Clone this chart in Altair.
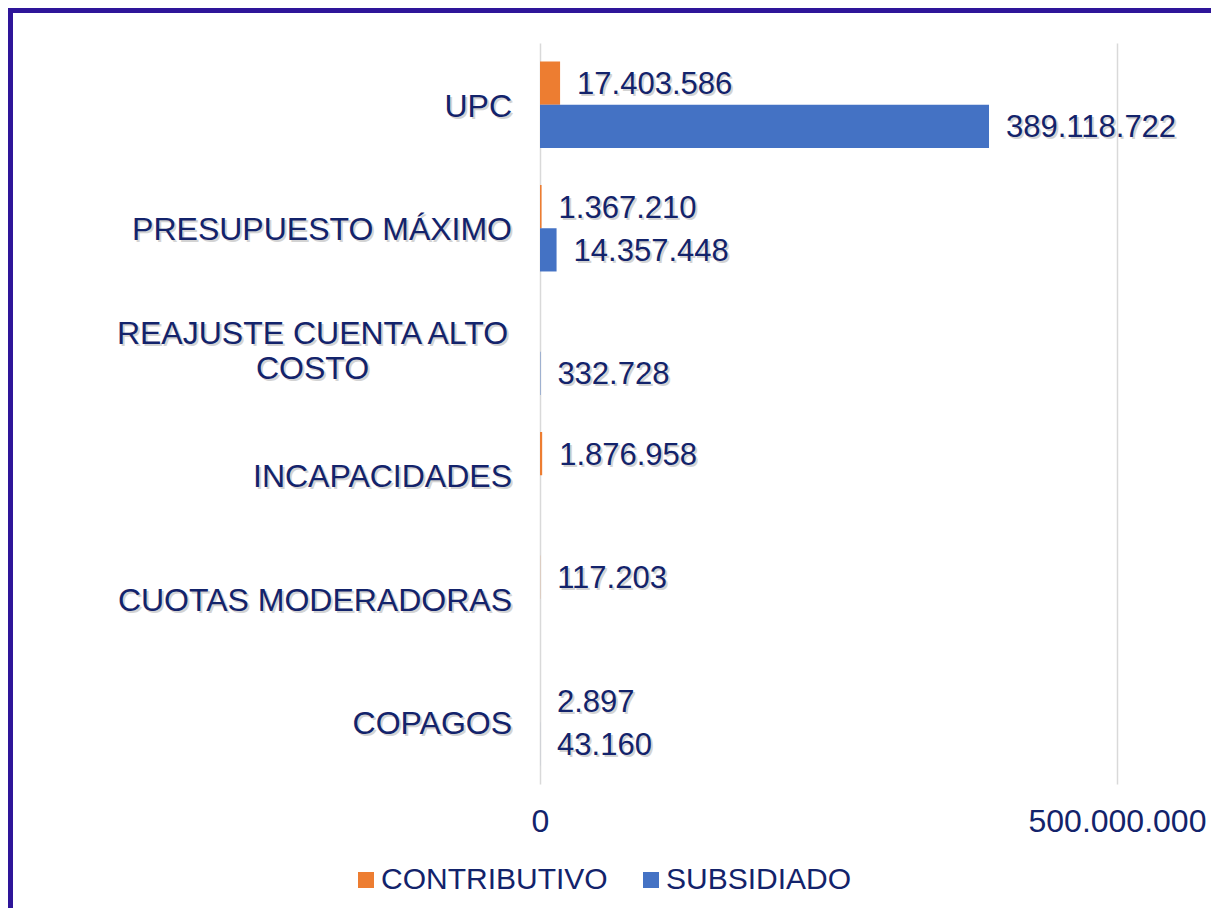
import altair as alt
import pandas as pd

categories = ["UPC", "PRESUPUESTO MÁXIMO", "REAJUSTE CUENTA ALTO COSTO",
              "INCAPACIDADES", "CUOTAS MODERADORAS", "COPAGOS"]
contributivo = [17403586, 1367210, None, 1876958, 117203, 2897]
subsidiado = [389118722, 14357448, 332728, None, None, 43160]
series = ["CONTRIBUTIVO", "SUBSIDIADO"]
colors = ["#ED7D31", "#4472C4"]
x_ticks = [0, 500000000]

# category labels: single line ones and the wrapped one
single_line = ["UPC", "PRESUPUESTO MÁXIMO", "INCAPACIDADES", "CUOTAS MODERADORAS", "COPAGOS"]
wrapped = {"REAJUSTE CUENTA ALTO COSTO": "REAJUSTE CUENTA ALTO\nCOSTO"}

rows = []
for c, a, b in zip(categories, contributivo, subsidiado):
    for s, v in ((series[0], a), (series[1], b)):
        if v is not None:
            rows.append({"cat": c, "serie": s, "valor": v,
                         "label": f"{v:,}".replace(",", ".")})
df = pd.DataFrame(rows)
df_single = pd.DataFrame({"cat": single_line, "disp": single_line})
df_wrap = pd.DataFrame({"cat": list(wrapped.keys()), "disp": list(wrapped.values())})

FONT = "Liberation Sans"
NAVY = "#13236B"
SHADOW = "#A0A0A0"
FS = 32      # category + axis labels
FS_VAL = 31  # bar value labels
FS_LEG = 30  # legend labels

y_enc = alt.Y("cat:N", sort=categories, axis=None,
              scale=alt.Scale(paddingInner=0.3, paddingOuter=0.15))
x_enc = alt.X("valor:Q", title=None,
              scale=alt.Scale(domain=[0, 581500000], nice=False, zero=True),
              axis=alt.Axis(values=x_ticks, grid=True, gridColor="#D9D9D9", gridWidth=1.5,
                            domain=False, ticks=False, labelFontSize=FS, labelFont=FONT,
                            labelColor=NAVY, labelPadding=22, labelFlush=False,
                            labelExpr="replace(replace(replace(format(datum.value, ','), ',', '.'), ',', '.'), ',', '.')"))
yo_enc = alt.YOffset("serie:N", sort=series)
y_plain = alt.Y("cat:N", sort=categories, axis=None)

base = alt.Chart(df)

bars = base.mark_bar().encode(
    x=x_enc, y=y_enc, yOffset=yo_enc,
    color=alt.Color("serie:N", scale=alt.Scale(domain=series, range=colors),
                    legend=alt.Legend(orient="none", legendX=-189, legendY=822,
                                      direction="horizontal", title=None,
                                      symbolType="square", symbolSize=256,
                                      symbolStrokeWidth=0, labelFontSize=FS_LEG,
                                      labelFont=FONT, labelColor=NAVY,
                                      columnPadding=28, labelOffset=0, padding=0,
                                      labelLimit=400)),
)

label_shadow = base.mark_text(align="left", baseline="middle", dx=19, dy=4,
                              font=FONT, fontSize=FS_VAL, color=SHADOW, opacity=0.45).encode(
    x="valor:Q", y=y_plain, yOffset=yo_enc, text="label:N")
labels = base.mark_text(align="left", baseline="middle", dx=17, dy=2,
                        font=FONT, fontSize=FS_VAL, color=NAVY).encode(
    x="valor:Q", y=y_plain, yOffset=yo_enc, text="label:N")

s_base = alt.Chart(df_single)
cat_shadow = s_base.mark_text(align="right", baseline="middle", dx=2, dy=4,
                              font=FONT, fontSize=FS, color=SHADOW, opacity=0.45).encode(
    y=y_plain, x=alt.value(-28), text="disp:N")
cat_labels = s_base.mark_text(align="right", baseline="middle", dy=2,
                              font=FONT, fontSize=FS, color=NAVY).encode(
    y=y_plain, x=alt.value(-28), text="disp:N")

w_base = alt.Chart(df_wrap)
wrap_shadow = w_base.mark_text(align="center", baseline="middle", dx=2, dy=-15.5,
                               lineBreak="\n", lineHeight=35,
                               font=FONT, fontSize=FS, color=SHADOW, opacity=0.45).encode(
    y=y_plain, x=alt.value(-227.5), text="disp:N")
wrap_labels = w_base.mark_text(align="center", baseline="middle", dy=-17.5,
                               lineBreak="\n", lineHeight=35,
                               font=FONT, fontSize=FS, color=NAVY).encode(
    y=y_plain, x=alt.value(-227.5), text="disp:N")

frame_df = pd.DataFrame({"k": [0]})
left_border = alt.Chart(frame_df).mark_rule(color="#2E1599", strokeWidth=5).encode(
    x=alt.value(-529.5), y=alt.value(-35), y2=alt.value(865))
top_border = alt.Chart(frame_df).mark_rule(color="#2E1599", strokeWidth=5).encode(
    x=alt.value(-532), x2=alt.value(671), y=alt.value(-32.5))

chart = alt.layer(bars, label_shadow, labels, cat_shadow, cat_labels,
                  wrap_shadow, wrap_labels, left_border, top_border).properties(
    width=671, height=741,
    autosize=alt.AutoSizeParams(type="none"),
    padding={"left": 532, "top": 35, "right": 0, "bottom": 124},
).configure(font=FONT).configure_view(stroke=None, strokeWidth=0)

chart.save("out.html", embed_options={"renderer": "svg", "actions": False})
